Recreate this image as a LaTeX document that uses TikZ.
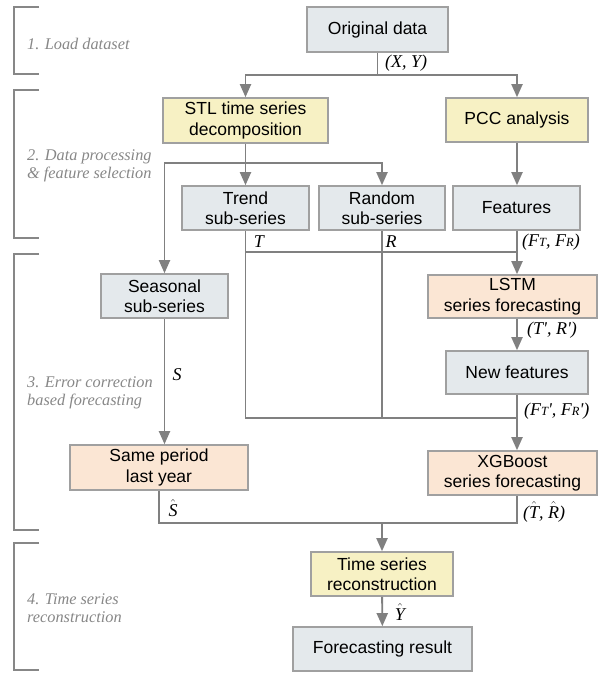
\documentclass[tikz,border=0pt]{standalone}
\usepackage{fontspec}
\setmainfont{Liberation Sans}
\newfontfamily\tmsfont{Liberation Serif}
\usetikzlibrary{positioning, arrows.meta}
\definecolor{boxgray}{RGB}{228,233,236}
\definecolor{boxyellow}{RGB}{247,241,196}
\definecolor{boxpeach}{RGB}{251,230,212}
\definecolor{boxline}{RGB}{160,160,160}
\definecolor{linegray}{RGB}{128,128,128}
\definecolor{sectgray}{RGB}{135,135,135}
\newcommand{\fsub}[1]{{\fontsize{12.5}{12.5}\selectfont #1}}

\begin{document}
\begin{tikzpicture}[x=1pt, y=-1pt,
    box/.style={draw=boxline, line width=1.6pt, align=center, inner sep=2pt,
      font=\fontsize{17.5}{20.5}\selectfont, minimum height=44pt},
    greybox/.style={box, fill=boxgray},
    yellowbox/.style={box, fill=boxyellow},
    peachbox/.style={box, fill=boxpeach},
    conn/.style={draw=linegray, line width=1.9pt},
    arr/.style={conn, -{Triangle[length=13pt, width=11pt]}},
    lbl/.style={font=\tmsfont\itshape\fontsize{18}{20}\selectfont, inner sep=1pt},
    sect/.style={font=\tmsfont\itshape\fontsize{16.3}{18.5}\selectfont, text=sectgray,
      align=left, anchor=west, inner sep=0pt},
    brk/.style={draw=sectgray, line width=1.4pt}
  ]
  \useasboundingbox (0,0) rectangle (598,675);

  % stages on the left
  \draw[brk] (39,7) -- (14,7) -- (14,74) -- (39,74);
  \draw[brk] (39,90) -- (14,90) -- (14,238) -- (39,238);
  \draw[brk] (39,254) -- (14,254) -- (14,530) -- (39,530);
  \draw[brk] (39,543) -- (14,543) -- (14,670) -- (39,670);
  \node[sect] (stage1) at (27,44) {1. Load dataset};
  \node[sect] (stage2) at (27,166) {2. Data processing\\\& feature selection};
  \node[sect] (stage3) at (27,393) {3. Error correction\\based forecasting};
  \node[sect] (stage4) at (27,608) {4. Time series\\reconstruction};

  % boxes
  \node[greybox, minimum width=141pt, minimum height=45pt] (orig) at (377.5,29.5) {Original data};
  \node[yellowbox, minimum width=165pt, minimum height=45pt] (stl) at (245.5,120.5) {STL time series\\decomposition};
  \node[yellowbox, minimum width=142pt] (pcc) at (517,120) {PCC analysis};
  \node[greybox, minimum width=127pt] (trend) at (245.5,208) {Trend\\sub-series};
  \node[greybox, minimum width=126pt] (random) at (382,208) {Random\\sub-series};
  \node[greybox, minimum width=127pt] (feat) at (516.5,208) {Features};
  \node[greybox, minimum width=127pt] (seas) at (164.5,296) {Seasonal\\sub-series};
  \node[peachbox, minimum width=169pt, minimum height=43pt] (lstm) at (512.5,296.5) {LSTM\\series forecasting};
  \node[greybox, minimum width=142pt, minimum height=43pt] (newf) at (517,372.5) {New features};
  \node[peachbox, minimum width=178pt, minimum height=45pt] (same) at (159,467.5) {Same period\\last year};
  \node[peachbox, minimum width=169pt] (xgb) at (512.5,473) {XGBoost\\series forecasting};
  \node[yellowbox, minimum width=142pt] (tsr) at (382,574) {Time series\\reconstruction};
  \node[greybox, minimum width=179pt] (res) at (382.5,649) {Forecasting result};

  % junctions
  \coordinate (split) at (377.5,75);
  \coordinate (fork) at (245.5,163);
  \coordinate (mid) at (517,252);
  \coordinate (low) at (517,418);
  \coordinate (join) at (382,523);

  % connectors
  \draw[conn] (orig) -- (split);
  \draw[arr] (split) -| (stl);
  \draw[arr] (split) -| (pcc);
  \draw[arr] (stl) -- (trend);
  \draw[arr] (fork) -| (random);
  \draw[arr] (fork) -| (seas);
  \draw[arr] (pcc) -- (pcc |- feat.north);
  \draw[conn] (trend) -- (trend |- low) -- (low);
  \draw[conn] (random) -- (random |- low);
  \draw[conn] (trend |- mid) -- (mid);
  \draw[arr] (feat.south -| mid) -- (mid |- lstm.north);
  \draw[arr] (lstm.south -| newf) -- (newf);
  \draw[arr] (newf) -- (newf |- xgb.north);
  \draw[arr] (seas) -- (seas |- same.north);
  \draw[conn] (same) |- (join);
  \draw[conn] (xgb.south -| low) |- (join);
  \draw[arr] (join) -- (tsr);
  \draw[arr] (tsr) -- (res);

  % labels
  \node[lbl, anchor=west] (xy) at (384,63) {(X, Y)};
  \node[lbl] (tl) at (259,242) {T};
  \node[lbl] (rl) at (391,242) {R};
  \node[lbl, anchor=west] (ftr) at (521,242) {(F\fsub{T}, F\fsub{R})};
  \node[lbl, anchor=west] (trp) at (526,330) {(T', R')};
  \node[lbl, anchor=west] (ftrp) at (523,411) {(F\fsub{T}', F\fsub{R}')};
  \node[lbl] (sl) at (177,375) {S};
  \node[lbl] (shat) at (173,508) {$\hat{\mbox{S}}$};
  \node[lbl, anchor=west] (trhat) at (522,512) {($\hat{\mbox{T}}$, $\hat{\mbox{R}}$)};
  \node[lbl] (yhat) at (400,612) {$\hat{\mbox{Y}}$};
\end{tikzpicture}
\end{document}
